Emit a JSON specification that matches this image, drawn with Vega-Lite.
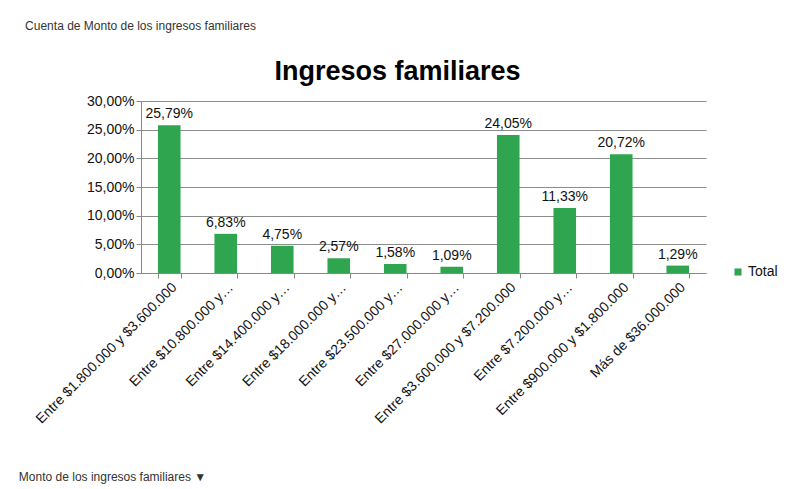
{
  "$schema": "https://vega.github.io/schema/vega-lite/v6.json",
  "width": 565,
  "height": 172,
  "autosize": "none",
  "padding": {"left": 141, "top": 101, "right": 80, "bottom": 216},
  "background": "white",
  "config": {
    "locale": {"number": {"decimal": ",", "thousands": ".", "grouping": [3], "currency": ["$", ""]}},
    "font": "Liberation Sans",
    "view": {"stroke": null}
  },
  "title": {
    "text": "Ingresos familiares",
    "font": "Liberation Sans",
    "fontSize": 27,
    "fontWeight": "bold",
    "color": "#000000",
    "anchor": "middle",
    "dx": -26,
    "dy": 83,
    "offset": 16
  },
  "data": {
    "values": [
      {"rango": "Entre $1.800.000 y $3.600.000", "pct": 0.2579},
      {"rango": "Entre $10.800.000 y…", "pct": 0.0683},
      {"rango": "Entre $14.400.000 y…", "pct": 0.0475},
      {"rango": "Entre $18.000.000 y…", "pct": 0.0257},
      {"rango": "Entre $23.500.000 y…", "pct": 0.0158},
      {"rango": "Entre $27.000.000 y…", "pct": 0.0109},
      {"rango": "Entre $3.600.000 y $7.200.000", "pct": 0.2405},
      {"rango": "Entre $7.200.000 y…", "pct": 0.1133},
      {"rango": "Entre $900.000 y $1.800.000", "pct": 0.2072},
      {"rango": "Más de $36.000.000", "pct": 0.0129}
    ]
  },
  "encoding": {
    "x": {
      "field": "rango",
      "type": "nominal",
      "sort": null,
      "scale": {"paddingInner": 0.6, "paddingOuter": 0.3},
      "axis": {
        "title": "Monto de los ingresos familiares ▼",
        "titleFont": "Liberation Sans",
        "titleFontSize": 12,
        "titleFontWeight": "normal",
        "titleColor": "#333333",
        "titleX": -29,
        "titleY": 203,
        "titleAlign": "center",
        "titleBaseline": "middle",
        "labelAngle": -45,
        "labelAlign": "right",
        "labelBaseline": "top",
        "labelFontSize": 14,
        "labelColor": "#111111",
        "labelLimit": 300,
        "labelPadding": 2,
        "tickBand": "extent",
        "tickSize": 5,
        "tickColor": "#888888",
        "domainColor": "#888888",
        "grid": false
      }
    },
    "y": {
      "field": "pct",
      "type": "quantitative",
      "scale": {"domain": [0, 0.3], "nice": false},
      "axis": {
        "title": "Cuenta de Monto de los ingresos familiares",
        "titleFont": "Liberation Sans",
        "titleFontSize": 12,
        "titleFontWeight": "normal",
        "titleColor": "#333333",
        "titleAngle": 0,
        "titleX": -1,
        "titleY": -76,
        "titleAlign": "center",
        "titleBaseline": "middle",
        "values": [0, 0.05, 0.1, 0.15, 0.2, 0.25, 0.3],
        "format": ".2%",
        "labelFontSize": 14,
        "labelColor": "#111111",
        "labelPadding": 2,
        "tickSize": 5,
        "tickColor": "#888888",
        "domainColor": "#888888",
        "gridColor": "#8c8c8c",
        "gridWidth": 1
      }
    }
  },
  "layer": [
    {
      "mark": {"type": "bar"},
      "encoding": {
        "color": {
          "datum": "Total",
          "type": "nominal",
          "scale": {"range": ["#30a54f"]},
          "legend": {
            "title": null,
            "orient": "none",
            "legendX": 590,
            "legendY": 164,
            "symbolType": "square",
            "symbolSize": 50,
            "symbolStrokeWidth": 0,
            "labelFontSize": 14,
            "labelColor": "#111111",
            "labelOffset": 3
          }
        }
      }
    },
    {
      "mark": {"type": "text", "baseline": "bottom", "dy": -4, "fontSize": 14, "color": "#111111"},
      "encoding": {
        "text": {"field": "pct", "type": "quantitative", "format": ".2%"}
      }
    }
  ]
}
